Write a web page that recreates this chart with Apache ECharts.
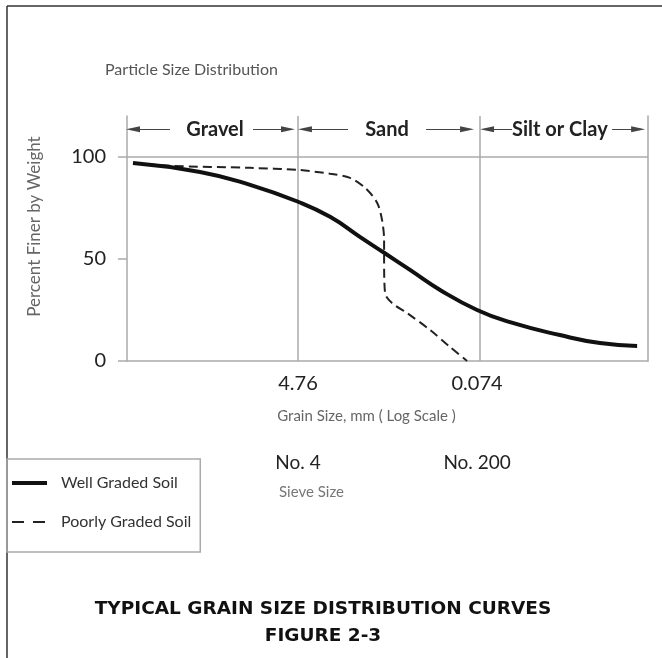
<!DOCTYPE html>
<html><head><meta charset="utf-8">
<script src="https://cdn.jsdelivr.net/npm/echarts@6/dist/echarts.min.js"></script>
<style>html,body{margin:0;padding:0;background:#fff}#c{width:662px;height:658px}</style>
</head><body><div id="c"></div>
<script>
// ---- data ----
const wellSize = [221, 46.5, 14.5, 4.76, 2.26, 1.13, 0.643, 0.352, 0.175, 0.074, 0.0344, 0.0108, 0.00424, 0.00179];
const wellPct  = [97, 92.6, 86.3, 78, 70.6, 60.8, 53, 44.6, 34.8, 25, 19, 12.7, 8.8, 7.4];
const poorSize = [221, 93.4, 14.5, 4.76, 2.26, 1.42, 1.00, 0.757, 0.675, 0.643, 0.643, 0.629, 0.535, 0.377, 0.221, 0.139, 0.0934];
const poorPct  = [97, 95.6, 94.6, 93.6, 91.7, 89.7, 84.8, 77.5, 69.1, 59.3, 49.5, 33.3, 28.4, 23.5, 15.2, 6.9, 0];
const sizeTicks = [4.76, 0.074];
const sieveLabels = ['No. 4', 'No. 200'];
const pctTicks = [0, 50, 100];
const zoneNames = ['Gravel', 'Sand', 'Silt or Clay'];
const zoneBounds = [254, 4.76, 0.074, 0.00139];
// header arrow anchors (grain size): [leftTip, leftTail, textCenter, rightTail, rightTip]
const zoneArrows = [
  [221, 93.4, 32.8, 13.56, 6.01],
  [4.05, 1.488, 0.601, 0.2424, 0.0934],
  [0.0587, 0.0328, 0.0108, 0.0032, 0.00175]
];
const headerY = 113.5;

const FONT = "Lato, 'DejaVu Sans Condensed', sans-serif";
const GRID = '#aaaaaa';

const markLines = [];
sizeTicks.forEach(v => markLines.push({xAxis: v}));
markLines.push({yAxis: 100});
const arrowStyle = {lineStyle: {color: '#444', width: 1}};
zoneArrows.forEach(a => {
  markLines.push([{coord: [a[0], headerY], symbol: 'triangle', symbolSize: [6, 14], ...arrowStyle}, {coord: [a[1], headerY], symbol: 'none'}]);
  markLines.push([{coord: [a[3], headerY], symbol: 'none', ...arrowStyle}, {coord: [a[4], headerY], symbol: 'triangle', symbolSize: [6, 14]}]);
});
const headerPoints = zoneArrows.map((a, i) => ({name: zoneNames[i], coord: [a[2], headerY], value: zoneNames[i]}));

const hiddenSymbol = {color: 'rgba(0,0,0,0)', borderWidth: 0, borderColor: 'rgba(0,0,0,0)'};

const chart = echarts.init(document.getElementById('c'));
chart.setOption({
  animation: false,
  title: [
    {text: 'Particle Size Distribution', left: 100, top: 57,
     textStyle: {fontFamily: FONT, fontSize: 16, fontWeight: 'normal', color: '#555'}},
    {text: 'TYPICAL GRAIN SIZE DISTRIBUTION CURVES\nFIGURE 2-3', left: 318, top: 591, textAlign: 'center',
     textStyle: {fontFamily: "'DejaVu Sans', sans-serif", fontSize: 18.5, fontWeight: 'bold', color: '#111', lineHeight: 27, align: 'center'}}
  ],
  graphic: [
    {type: 'line', shape: {x1: 7, y1: 6, x2: 662, y2: 6}, style: {stroke: '#333', lineWidth: 1.5}},
    {type: 'line', shape: {x1: 7, y1: 6, x2: 7, y2: 658}, style: {stroke: '#333', lineWidth: 1.5}}
  ],
  legend: {
    orient: 'vertical', left: 7, top: 459,
    padding: [16, 9, 22, 3], itemGap: 23, itemWidth: 35, itemHeight: 14,
    borderColor: GRID, borderWidth: 1.5,
    textStyle: {fontFamily: FONT, fontSize: 16, color: '#333', padding: [0, 0, 0, 9]},
    data: [
      {name: 'Well Graded Soil', itemStyle: hiddenSymbol, lineStyle: {width: 4, color: '#111', type: 'solid'}},
      {name: 'Poorly Graded Soil', itemStyle: hiddenSymbol, lineStyle: {width: 2, color: '#222', type: [12, 9]}}
    ]
  },
  grid: {left: 127, right: 14, top: 116, bottom: 297},
  xAxis: [
    {type: 'log', inverse: true, min: zoneBounds[3], max: zoneBounds[0],
     name: 'Grain Size, mm ( Log Scale )', nameLocation: 'middle', nameGap: 48,
     nameTextStyle: {fontFamily: FONT, fontSize: 15, color: '#666', padding: [0, 42, 0, 0]},
     axisLine: {show: true, lineStyle: {color: GRID, width: 1.5}},
     axisTick: {show: false}, splitLine: {show: false},
     axisLabel: {customValues: sizeTicks, margin: 13, fontFamily: FONT, fontSize: 20, color: '#222',
                 formatter: v => String(v)}},
    {type: 'log', inverse: true, min: zoneBounds[3], max: zoneBounds[0], position: 'bottom', offset: 79,
     name: 'Sieve Size', nameLocation: 'middle', nameGap: 45,
     nameTextStyle: {fontFamily: FONT, fontSize: 15, color: '#777', padding: [0, 152, 0, 0]},
     axisLine: {show: false}, axisTick: {show: false}, splitLine: {show: false},
     axisLabel: {customValues: sizeTicks, margin: 13, fontFamily: FONT, fontSize: 19, color: '#222',
                 formatter: v => { const i = sizeTicks.findIndex(t => Math.abs(t - v) / t < 1e-6); return i >= 0 ? sieveLabels[i] : ''; }}}
  ],
  yAxis: [
    {type: 'value', min: 0, max: 120,
     name: 'Percent Finer by Weight', nameLocation: 'middle', nameGap: 84, nameRotate: 90,
     nameTextStyle: {fontFamily: FONT, fontSize: 17, color: '#666', padding: [0, 0, 0, 24]},
     axisLine: {show: true, lineStyle: {color: GRID, width: 1.5}},
     axisTick: {show: true, length: 9, inside: false, customValues: pctTicks, lineStyle: {color: GRID, width: 1.5}},
     axisLabel: {customValues: pctTicks, margin: 21, fontFamily: FONT, fontSize: 20, color: '#222'},
     splitLine: {show: false}},
    {type: 'value', min: 0, max: 120, position: 'right',
     axisLine: {show: true, lineStyle: {color: GRID, width: 1.5}},
     axisTick: {show: false}, axisLabel: {show: false}, splitLine: {show: false}}
  ],
  series: [
    {name: 'zones', type: 'line', data: [], z: 1, silent: true,
     markLine: {silent: true, symbol: 'none', animation: false,
       lineStyle: {color: GRID, width: 1.5, type: 'solid'}, label: {show: false},
       emphasis: {disabled: true}, data: markLines},
     markPoint: {silent: true, symbol: 'circle', symbolSize: 0, animation: false,
       label: {show: true, position: 'inside', formatter: p => p.name,
               fontFamily: FONT, fontSize: 20, fontWeight: 'bold', color: '#222'},
       data: headerPoints}},
    {name: 'Well Graded Soil', type: 'line', z: 5, smooth: true, symbol: 'none',
     itemStyle: {color: '#111'}, lineStyle: {color: '#111', width: 4},
     data: wellSize.map((s, i) => [s, wellPct[i]])},
    {name: 'Poorly Graded Soil', type: 'line', z: 4, smooth: 0.3, symbol: 'none',
     itemStyle: {color: '#222'}, lineStyle: {color: '#222', width: 2, type: [9, 5]},
     data: poorSize.map((s, i) => [s, poorPct[i]])}
  ]
});
</script></body></html>
